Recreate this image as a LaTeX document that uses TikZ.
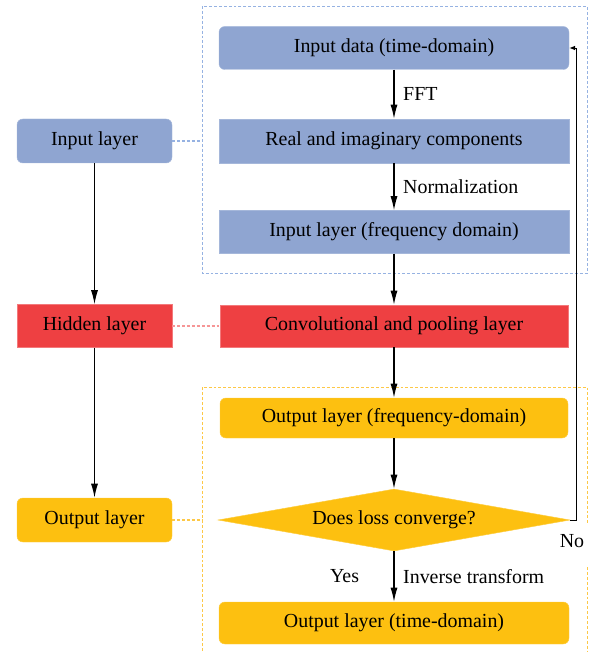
\documentclass[tikz,border=0pt]{standalone}
\usepackage{fontspec}
\setmainfont{Liberation Serif}
\usetikzlibrary{shapes.geometric,arrows.meta}
\definecolor{stepblue}{RGB}{143,165,209}
\definecolor{stepred}{RGB}{238,64,66}
\definecolor{stepyellow}{RGB}{253,192,16}
\definecolor{lineblue}{RGB}{150,178,226}
\definecolor{linered}{RGB}{246,150,150}
\definecolor{lineyellow}{RGB}{253,200,70}
\begin{document}
\begin{tikzpicture}[x=0.03cm,y=-0.03cm,
	every node/.style={font=\fontsize{17}{20}\selectfont},
	box/.style={minimum width=350*0.03cm,minimum height=43*0.03cm,inner sep=0pt},
	sidebox/.style={minimum width=155*0.03cm,minimum height=44*0.03cm,inner sep=0pt},
	round/.style={rounded corners=5pt},
	blue/.style={fill=stepblue,draw=stepblue!80!white},
	red/.style={fill=stepred,draw=stepred!70!white},
	yellow/.style={fill=stepyellow,draw=stepyellow!80!white},
	flow/.style={-{Latex[length=12pt,width=6pt]},line width=1pt},
	link/.style={line width=1pt,dash pattern=on 2.5pt off 1.7pt},
	frame/.style={line width=0.8pt,dash pattern=on 2.5pt off 1.7pt}]
	\useasboundingbox (0,0) rectangle (589,652);
	\draw[frame,lineblue] (202,6) rectangle (587,273);
	\draw[frame,lineyellow] (202,651) -- (202,387) -- (587,387) -- (587,525);
	\draw[frame,lineyellow] (587,567) -- (587,651);
	\coordinate (bluefront) at (202,141);
	\coordinate (yellowfront) at (202,520);
	\coordinate (back) at (576,520);
	\node[box,blue,round] (data) at (394,48) {Input data (time-domain)};
	\node[box,blue,minimum height=44*0.03cm] (comp) at (394,141) {Real and imaginary components};
	\node[box,blue] (freq) at (394,232) {Input layer (frequency domain)};
	\node[box,red,minimum width=348*0.03cm,minimum height=42*0.03cm] (conv) at (394,326) {Convolutional and pooling layer};
	\node[box,yellow,round,minimum width=348*0.03cm,minimum height=40*0.03cm] (outf) at (394,418) {Output layer (frequency-domain)};
	\node[diamond,yellow,aspect=5.7,inner sep=0pt,minimum width=352*0.03cm,minimum height=62*0.03cm] (loss) at (394,520) {Does loss converge?};
	\node[box,yellow,round,minimum height=42*0.03cm] (outt) at (394,623) {Output layer (time-domain)};
	\node[sidebox,blue,round] (inl) at (94.5,141) {Input layer};
	\node[sidebox,red,minimum height=43*0.03cm] (hid) at (94.5,326) {Hidden layer};
	\node[sidebox,yellow,round] (outl) at (94.5,520) {Output layer};
	\draw[flow] (data) -- node[right=4pt] (fft) {FFT} (comp);
	\draw[flow] (comp) -- node[right=4pt] (norm) {Normalization} (freq);
	\draw[flow] (freq) -- (conv);
	\draw[flow] (conv) -- (outf);
	\draw[flow] (outf) -- (loss);
	\draw[flow] (loss) -- node[right=4pt] (inv) {Inverse transform} node[left=26pt] (yes) {Yes} (outt);
	\draw[-{Latex[length=5pt,width=4pt]},line width=0.8pt] (loss.east) -- (back) |- (data.east);
	\node (no) at (572,541) {No};
	\draw[flow] (inl) -- (hid);
	\draw[flow] (hid) -- (outl);
	\draw[link,lineblue] (inl) -- (bluefront);
	\draw[link,linered] (hid) -- (conv);
	\draw[link,lineyellow] (outl) -- (yellowfront);
\end{tikzpicture}
\end{document}
